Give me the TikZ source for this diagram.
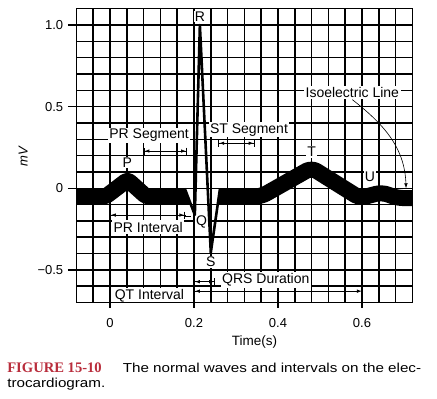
\documentclass[tikz,border=0pt]{standalone}
\usepackage{fontspec}
\setmainfont{Liberation Sans}
\newfontfamily\captionsans[FakeStretch=1.17]{Liberation Sans}
\newfontfamily\captionserif{Liberation Serif}
\usepackage{xcolor}
\usepackage{tikz}
\usetikzlibrary{arrows.meta, positioning, calc}
\definecolor{FigRed}{RGB}{185, 45, 60}

\tikzset{
  gridline/.style={black, line width=1.55pt},
  wavelbl/.style={fill=white, inner sep=1pt, font=\fontsize{14}{16}\selectfont},
  seglbl/.style={fill=white, inner sep=1.5pt, anchor=base, font=\fontsize{14}{16}\selectfont},
  ticklbl/.style={inner sep=0pt, font=\fontsize{13}{15}\selectfont},
  ivarrow/.style={line width=0.8pt, {Bar[width=7pt]Latex[length=5pt,width=3.5pt]}-{Latex[length=5pt,width=3.5pt]Bar[width=7pt]}},
  qtarrow/.style={line width=0.8pt, {Bar[width=7pt]Latex[length=5pt,width=3.5pt]}-{Latex[length=5pt,width=3.5pt]}},
  ecgband/.style={black, line width=16pt, line join=round},
  ecgspike/.style={black, line width=2.6pt, line join=round},
}

\begin{document}
\begin{tikzpicture}[x=4.2pt,y=1.633pt]
  \path[use as bounding box] (-26.19,-129.0) rectangle (77.86,115.3);

  % paper grid, 0.04 s by 0.1 mV
  \foreach \x in {-8,-4,...,72}{
    \draw[gridline] (\x,-70) -- (\x,110);
  }
  \foreach \y in {-70,-60,...,110}{
    \draw[gridline] (-8,\y) -- (72,\y);
  }

  % axes
  \foreach \y/\txt in {100/1.0,50/0.5,0/0,-50/−0.5}{
    \draw[gridline] (-10,\y) -- (-8,\y);
    \node[ticklbl, anchor=east] (ytick\y) at (-11.1,\y) {\txt};
  }
  \foreach \x/\txt in {0/0,20/0.2,40/0.4,60/0.6}{
    \draw[gridline] (\x,-70) -- (\x,-73.3);
    \node[ticklbl] (xtick\x) at (\x,-82.3) {\txt};
  }
  \node[ticklbl, rotate=90, font=\fontsize{13}{15}\selectfont\itshape] (ylabel) at (-20.7,19.2) {mV};
  \node[ticklbl, font=\fontsize{13.5}{15}\selectfont] (xlabel) at (34.4,-94.0) {Time(s)};

  % wave letters
  \node[wavelbl] (rlbl) at (21.4,105.1) {R};
  \node[wavelbl] (plbl) at (4.1,15.7) {P};
  \node[wavelbl] (tlbl) at (48,22.4) {T};
  \node[wavelbl] (ulbl) at (61.9,7.1) {U};
  \node[wavelbl] (qlbl) at (21.8,-20.5) {Q};
  \node[wavelbl] (slbl) at (24.0,-44.9) {S};

  % segment and interval names
  \node[seglbl] (prseg) at (9.3,30.2) {PR Segment};
  \node[seglbl] (stseg) at (33.1,33.8) {ST Segment};
  \node[seglbl] (iso) at (57.7,55.4) {Isoelectric Line};
  \node[seglbl] (print) at (9.1,-26.8) {PR Interval};
  \node[seglbl] (qrsdur) at (37.1,-58.5) {QRS Duration};
  \node[seglbl] (qtint) at (9.4,-68.4) {QT Interval};

  \draw[gridline] (-8,-70) rectangle (72,110);

  % ECG trace
  \draw[ecgband, rounded corners=3pt] (-8,-5) -- (-1,-5) -- (4.2,5.2) -- (8.6,-5) -- (17.6,-5);
  \fill (17.4,-0.1) -- (17.8,-0.1) -- (19.4,-9.9) -- (17.4,-9.9) -- cycle;
  \draw[ecgspike] (17.8,-0.1) -- (20.2,-16.3) -- (21.4,100) -- (24.0,-39.4) -- (26.2,-0.1);
  \fill (25.6,-9.9) -- (26.2,-0.1) -- (26.7,-0.1) -- (26.7,-9.9) -- cycle;
  \draw[ecgband, rounded corners=6pt] (26.5,-5) -- (36,-5) -- (48,12.5) -- (59.5,-6) -- (64.7,-2.5) -- (68.5,-6) -- (72,-6);

  % interval arrows
  \coordinate (prsegL) at (8,22.8);
  \coordinate (prsegR) at (18.3,22.8);
  \draw[ivarrow] (prsegL) -- (prsegR);
  \coordinate (stsegL) at (25.8,27.6);
  \coordinate (stsegR) at (34.4,27.6);
  \draw[ivarrow] (stsegL) -- (stsegR);
  \coordinate (printL) at (0,-16.4);
  \coordinate (printR) at (17.9,-16.4);
  \draw[ivarrow] (printL) -- (printR);
  \coordinate (qlead) at (19.2,-17.4);
  \draw[line width=0.8pt] (printR) |- (qlead);
  \coordinate (qrsL) at (20,-57.2);
  \coordinate (qrsR) at (25,-57.2);
  \draw[ivarrow] (qrsL) -- (qrsR);
  \coordinate (qtL) at (20,-63);
  \coordinate (qtR) at (60,-63);
  \draw[qtarrow] (qtL) -- (qtR);
  \coordinate (isoend) at (70.5,0);
  \draw[line width=0.6pt, -{Latex[length=5pt,width=3.5pt]}] (iso.south) to[out=-38,in=92] (isoend);

  % caption
  \node[anchor=base west, inner sep=0pt] (caption1) at (-24.5,-112.9)
    {{\captionserif\fontsize{14.6}{16}\selectfont\bfseries\color{FigRed}FIGURE 15-10}\hspace{21pt}{\captionsans\fontsize{13}{15}\selectfont The normal waves and intervals on the elec-}};
  \node[anchor=base west, inner sep=0pt] (caption2) at (-24.5,-121.9)
    {\captionsans\fontsize{13}{15}\selectfont trocardiogram.};
\end{tikzpicture}
\end{document}
